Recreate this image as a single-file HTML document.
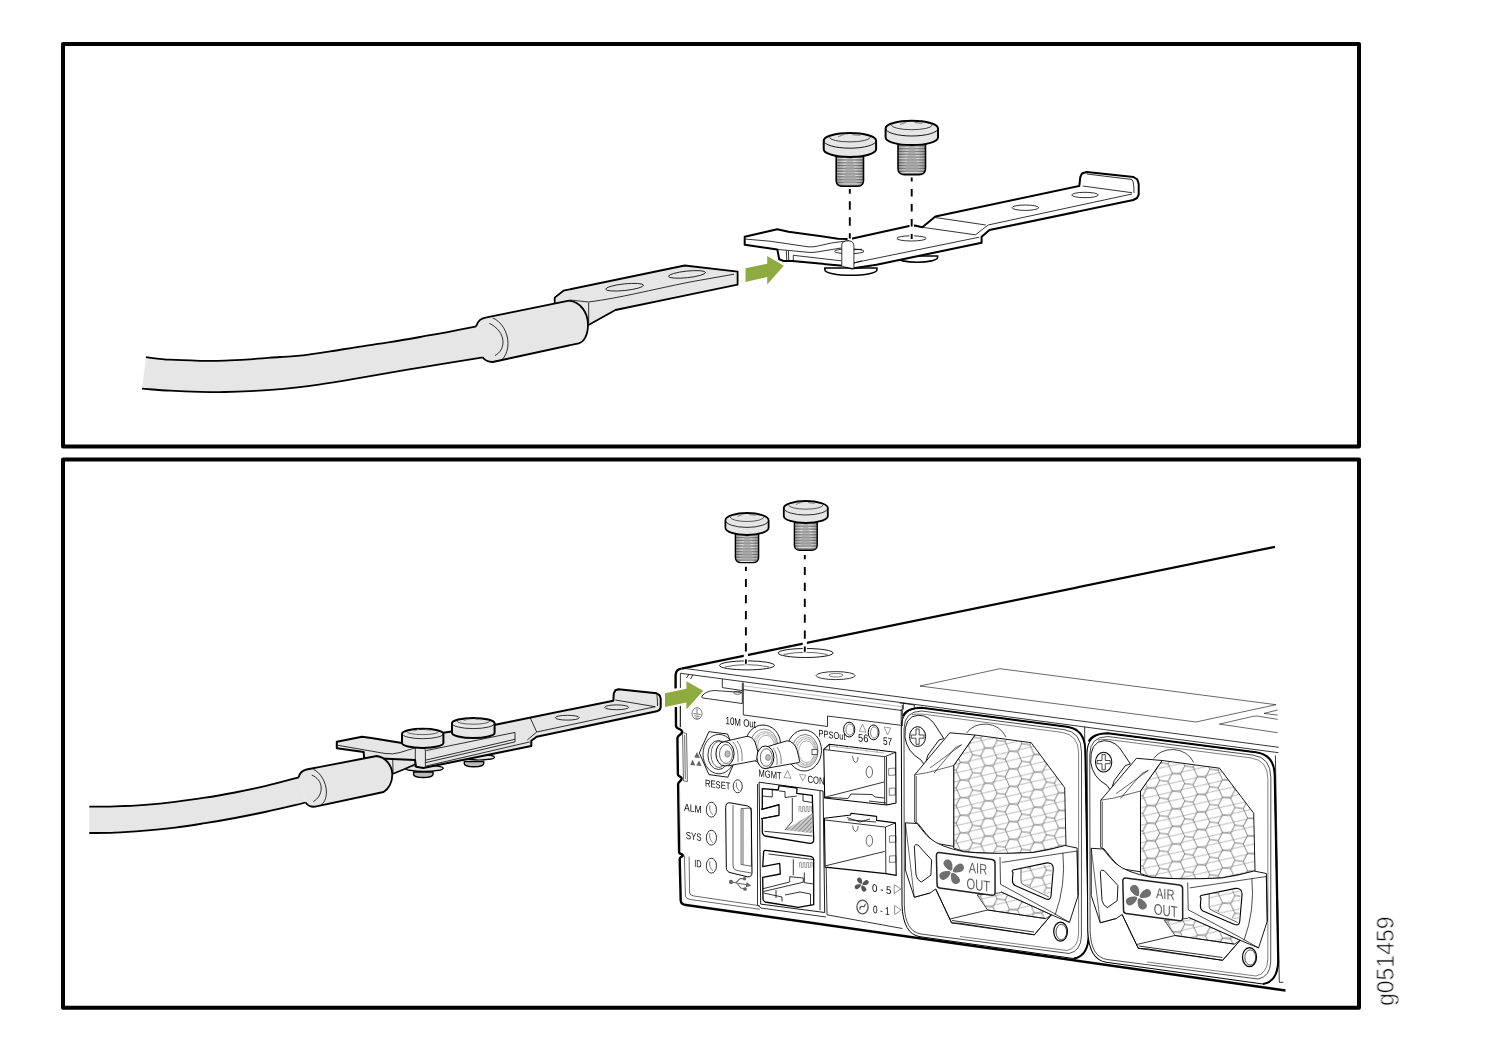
<!DOCTYPE html>
<html><head><meta charset="utf-8"><title>g051459</title>
<style>html,body{margin:0;padding:0;background:#fff;font-family:"Liberation Sans",sans-serif;}svg{display:block;}text{font-family:"Liberation Sans",sans-serif;}</style></head>
<body><svg width="1500" height="1050" viewBox="0 0 1500 1050">
<g opacity="0.999">
<rect x="63" y="44" width="1296" height="402.6" fill="none" stroke="#000" stroke-width="4" stroke-linejoin="round"/>
<rect x="63" y="459.4" width="1296" height="548.3" fill="none" stroke="#000" stroke-width="4" stroke-linejoin="round"/>
<path d="M146.0,357.2 C150.0,357.6 161.0,359.1 170.0,359.7 C179.0,360.3 190.8,360.6 200.0,360.8 C209.2,361.0 216.7,360.9 225.0,360.6 C233.3,360.4 240.8,359.9 250.0,359.3 C259.2,358.7 271.7,357.6 280.0,357.0 C288.3,356.4 291.7,356.5 300.0,355.6 C308.3,354.7 320.0,352.9 330.0,351.4 C340.0,349.9 350.0,348.1 360.0,346.6 C370.0,345.1 380.0,343.8 390.0,342.2 C400.0,340.6 410.0,338.8 420.0,337.0 C430.0,335.2 440.6,333.4 450.0,331.6 C459.4,329.8 472.1,327.3 476.5,326.4 L483.0,357.3 C472.5,359.0 440.5,364.2 420.0,367.6 C399.5,371.0 378.3,374.8 360.0,377.8 C341.7,380.9 323.3,384.0 310.0,385.9 C296.7,387.8 290.0,388.3 280.0,389.2 C270.0,390.1 259.2,390.7 250.0,391.2 C240.8,391.7 233.3,391.9 225.0,392.0 C216.7,392.1 209.2,392.0 200.0,391.8 C190.8,391.6 179.7,391.2 170.0,390.7 C160.3,390.2 146.7,389.0 142.0,388.7 Z" fill="#e6e6e6" stroke="none"/>
<path d="M146.0,357.2 C150.0,357.6 161.0,359.1 170.0,359.7 C179.0,360.3 190.8,360.6 200.0,360.8 C209.2,361.0 216.7,360.9 225.0,360.6 C233.3,360.4 240.8,359.9 250.0,359.3 C259.2,358.7 271.7,357.6 280.0,357.0 C288.3,356.4 291.7,356.5 300.0,355.6 C308.3,354.7 320.0,352.9 330.0,351.4 C340.0,349.9 350.0,348.1 360.0,346.6 C370.0,345.1 380.0,343.8 390.0,342.2 C400.0,340.6 410.0,338.8 420.0,337.0 C430.0,335.2 440.6,333.4 450.0,331.6 C459.4,329.8 472.1,327.3 476.5,326.4" fill="none" stroke="#000" stroke-width="1.8"/>
<path d="M483.0,357.3 C472.5,359.0 440.5,364.2 420.0,367.6 C399.5,371.0 378.3,374.8 360.0,377.8 C341.7,380.9 323.3,384.0 310.0,385.9 C296.7,387.8 290.0,388.3 280.0,389.2 C270.0,390.1 259.2,390.7 250.0,391.2 C240.8,391.7 233.3,391.9 225.0,392.0 C216.7,392.1 209.2,392.0 200.0,391.8 C190.8,391.6 179.7,391.2 170.0,390.7 C160.3,390.2 146.7,389.0 142.0,388.7" fill="none" stroke="#000" stroke-width="1.8"/>
<path d="M554.7,303.0 L554.7,297.6 L563.4,290.7 L684.7,265.5 L737.6,271.6 L737.6,284.6 L615.4,310.0 L589.4,324.5 L575.0,330.0 Z" fill="#e6e6e6" stroke="#000" stroke-width="1.8" stroke-linejoin="round"/>
<path d="M734,274.2 L690,282 C650,290 620,298 588.5,302 L570,300" fill="none" stroke="#000" stroke-width="0.8"/>
<path d="M588.7,302.5 L588.7,323" fill="none" stroke="#000" stroke-width="0.8"/>
<ellipse cx="624.6" cy="287.2" rx="19" ry="3.3" transform="rotate(-6 624.6 287.2)" fill="none" stroke="#000" stroke-width="0.8"/>
<ellipse cx="687" cy="274.4" rx="18.6" ry="3.3" transform="rotate(-6 687 274.4)" fill="none" stroke="#000" stroke-width="0.8"/>
<path d="M476,326.4 C477.5,321 481,318 486.7,317.3 L569,300.7 C580,302 588,312 588,324.7 C588,335 584,342 578.7,343.3 L492.7,362 C488,362 484.5,360 482.7,357.3 Z" fill="#e6e6e6"/>
<path d="M476,326.4 C477.5,321 481,318 486.7,317.3 L569,300.7 C580,302 588,312 588,324.7 C588,335 584,342 578.7,343.3 L492.7,362 C488,362 484.5,360 482.7,357.3" fill="none" stroke="#000" stroke-width="1.8" stroke-linejoin="round"/>
<path d="M492.7,318 C501,321 508,332 508,343.3 C508,351 505,358 500,361" fill="none" stroke="#000" stroke-width="0.8"/>
<path d="M489.3,323.3 C497,327 503,334 503,342 C503,348 500,353 495,355.5" fill="none" stroke="#000" stroke-width="0.8"/>
<polygon points="745.5,268.3 767.2,263.7 767.2,256.1 783.8,265.8 767.2,284.5 767.2,277.1 745.5,282" fill="#8fab3f"/>
<path d="M824.9,268 L824.9,270 A26,5.2 0 0 0 876.9,270 L876.9,268 Z" fill="#fff" stroke="#000" stroke-width="1.6"/>
<path d="M896.8,256 L896.8,257.5 A20.4,4.8 0 0 0 937.6,257.5 L937.6,256 Z" fill="#fff" stroke="#000" stroke-width="1.6"/>
<path d="M744.7,236.8 L777.3,229.3 L788.5,231.7 L838.0,238.7 L847.4,239.1 L850.2,239.1 L909.2,225.9 L914.8,225.5 L922.3,227.3 L935.4,216.6 L1079.3,186.0 L1080.3,177.0 L1082.0,173.5 L1086.7,172.0 L1133.5,177.0 L1137.3,179.5 L1138.7,184.0 L1138.7,194.7 L1137.0,198.0 L1133.3,200.0 L989.5,230.1 L981.6,236.7 L981.6,242.8 L876.5,264.7 L852.0,268.5 L842.7,265.7 L792.3,261.1 L783.9,261.1 L779.2,259.2 L777.3,249.4 L744.7,244.7 Z" fill="#fff" stroke="#000" stroke-width="2" stroke-linejoin="round"/>
<path d="M745.6,239.1 L770,241.2 L808,246.8 Q813,247.3 818,246 L831.3,243 L849.1,240.6" fill="none" stroke="#000" stroke-width="0.8"/>
<path d="M778,249.5 L788.4,250.4 L808,252.3 Q813,252.8 818,251.8 L841.2,248 M793.3,255.3 L841.2,260.8 M853.5,249.8 L862,249.2 M853.5,263.3 L862,260.8" fill="none" stroke="#000" stroke-width="0.8"/>
<path d="M853,263 L979.2,237.2" fill="none" stroke="#000" stroke-width="0.8"/>
<path d="M922.3,227.3 L975.5,234.8 L988.1,225 L1132,194 M935.4,217.5 L985.8,225 M1082.7,186 L1132,192.7 M1086.7,174 L1132,179.5 Q1134,182 1134,193" fill="none" stroke="#000" stroke-width="0.8"/>
<path d="M786.3,250.5 L786.8,260.5 M788.4,250.5 L788.8,260.5 M793.3,255.3 L793.3,260.8" fill="none" stroke="#000" stroke-width="0.8"/>
<ellipse cx="911.5" cy="238.4" rx="14.7" ry="2.6" fill="none" stroke="#000" stroke-width="0.8"/>
<ellipse cx="1025.3" cy="207.7" rx="13.3" ry="2.7" fill="none" stroke="#000" stroke-width="0.8"/>
<ellipse cx="1085" cy="195" rx="13.3" ry="2.7" fill="none" stroke="#000" stroke-width="0.8"/>
<ellipse cx="849.3" cy="251.3" rx="14.7" ry="2.4" fill="none" stroke="#000" stroke-width="0.8"/>
<path d="M841.8,266 L841.8,244 Q842.5,241.2 846,241 L849,240.8 Q853.9,241.2 853.9,246.5 L853.9,268.3" fill="#fff" stroke="#000" stroke-width="0.8"/>
<defs>
<pattern id="thr" width="4" height="1.55" patternUnits="userSpaceOnUse"><rect width="4" height="1.55" fill="#e4e4e4"/><rect y="0.85" width="4" height="0.7" fill="#6e6e6e"/></pattern>
<linearGradient id="thrg" x1="0" x2="1" y1="0" y2="0"><stop offset="0" stop-color="#000" stop-opacity="0.25"/><stop offset="0.3" stop-color="#000" stop-opacity="0"/><stop offset="0.7" stop-color="#000" stop-opacity="0"/><stop offset="1" stop-color="#000" stop-opacity="0.25"/></linearGradient>
</defs>
<path d="M836.2,149.3 L836.2,180.8 C836.2,184.7 839.7,186.3 842.4,186.3 L857.4,186.3 C860.1,186.3 863.5,184.7 863.5,180.8 L863.5,149.3 Z" fill="url(#thr)"/>
<path d="M836.2,149.3 L836.2,180.8 C836.2,184.7 839.7,186.3 842.4,186.3 L857.4,186.3 C860.1,186.3 863.5,184.7 863.5,180.8 L863.5,149.3 Z" fill="url(#thrg)"/>
<path d="M848.8,150.3 L851.0,150.3 L856.7,183.3 L843.1,183.3 Z" fill="#a0a0a0" opacity="0.75"/>
<path d="M836.2,149.3 L836.2,180.8 C836.2,184.7 839.7,186.3 842.4,186.3 L857.4,186.3 C860.1,186.3 863.5,184.7 863.5,180.8 L863.5,149.3 Z" fill="none" stroke="#000" stroke-width="1.60" stroke-linejoin="round"/>
<path d="M823.7,140.6 A26.2,7.6 0 0 1 876.1,140.6 L876.1,149.3 A26.2,7.6 0 0 1 823.7,149.3 Z" fill="#e6e6e6" stroke="#000" stroke-width="2.00" stroke-linejoin="round"/>
<path d="M823.7,140.6 A26.2,7.6 0 0 0 876.1,140.6" fill="none" stroke="#000" stroke-width="0.90"/>
<path d="M829.5,137.2 A20.4,4.7 0 0 0 870.3,137.2" fill="none" stroke="#000" stroke-width="0.70"/>
<path d="M838.1,136.7 l6.5,-2.4 M852.5,134.6 l7.9,0.9" stroke="#888" stroke-width="1.20" fill="none"/>
<path d="M898.0,137.5 L898.0,169.1 C898.0,172.9 901.5,174.6 904.2,174.6 L919.4,174.6 C922.1,174.6 925.5,172.9 925.5,169.1 L925.5,137.5 Z" fill="url(#thr)"/>
<path d="M898.0,137.5 L898.0,169.1 C898.0,172.9 901.5,174.6 904.2,174.6 L919.4,174.6 C922.1,174.6 925.5,172.9 925.5,169.1 L925.5,137.5 Z" fill="url(#thrg)"/>
<path d="M910.7,138.5 L912.9,138.5 L918.7,171.6 L904.9,171.6 Z" fill="#a0a0a0" opacity="0.75"/>
<path d="M898.0,137.5 L898.0,169.1 C898.0,172.9 901.5,174.6 904.2,174.6 L919.4,174.6 C922.1,174.6 925.5,172.9 925.5,169.1 L925.5,137.5 Z" fill="none" stroke="#000" stroke-width="1.60" stroke-linejoin="round"/>
<path d="M885.6,128.4 A26.2,7.6 0 0 1 938.0,128.4 L938.0,137.5 A26.2,7.6 0 0 1 885.6,137.5 Z" fill="#e6e6e6" stroke="#000" stroke-width="2.00" stroke-linejoin="round"/>
<path d="M885.6,128.4 A26.2,7.6 0 0 0 938.0,128.4" fill="none" stroke="#000" stroke-width="0.90"/>
<path d="M891.4,125.0 A20.4,4.7 0 0 0 932.2,125.0" fill="none" stroke="#000" stroke-width="0.70"/>
<path d="M900.0,124.5 l6.5,-2.4 M914.4,122.4 l7.9,0.9" stroke="#888" stroke-width="1.20" fill="none"/>
<path d="M849.8,189 L849.8,240 M911.7,177.6 L911.7,239.5" stroke="#fff" stroke-width="4.5"/>
<path d="M849.8,189 L849.8,238.5" stroke="#000" stroke-width="1.9" stroke-dasharray="8.4,7.6" stroke-dashoffset="3.7"/>
<path d="M911.7,177.6 L911.7,239" stroke="#000" stroke-width="1.9" stroke-dasharray="7.4,7.6" stroke-dashoffset="3.5"/>
<path d="M89.3,806.7 C93.6,806.7 105.7,806.7 115.0,806.4 C124.3,806.1 135.0,805.6 145.0,804.8 C155.0,804.0 165.0,803.0 175.0,801.8 C185.0,800.6 195.0,799.2 205.0,797.7 C215.0,796.2 225.0,794.4 235.0,792.5 C245.0,790.6 254.3,788.7 265.0,786.2 C275.7,783.7 293.3,778.8 299.0,777.3 L305.6,802.4 C303.8,802.9 301.8,803.6 295.0,805.2 C288.2,806.8 275.0,809.9 265.0,812.0 C255.0,814.1 245.0,816.1 235.0,818.0 C225.0,819.9 215.0,821.6 205.0,823.2 C195.0,824.8 185.0,826.5 175.0,827.7 C165.0,829.0 155.0,829.9 145.0,830.7 C135.0,831.5 124.3,832.3 115.0,832.7 C105.7,833.1 93.6,833.0 89.3,833.0 Z" fill="#e6e6e6"/>
<path d="M89.3,806.7 C93.6,806.7 105.7,806.7 115.0,806.4 C124.3,806.1 135.0,805.6 145.0,804.8 C155.0,804.0 165.0,803.0 175.0,801.8 C185.0,800.6 195.0,799.2 205.0,797.7 C215.0,796.2 225.0,794.4 235.0,792.5 C245.0,790.6 254.3,788.7 265.0,786.2 C275.7,783.7 293.3,778.8 299.0,777.3" fill="none" stroke="#000" stroke-width="1.8"/>
<path d="M305.6,802.4 C303.8,802.9 301.8,803.6 295.0,805.2 C288.2,806.8 275.0,809.9 265.0,812.0 C255.0,814.1 245.0,816.1 235.0,818.0 C225.0,819.9 215.0,821.6 205.0,823.2 C195.0,824.8 185.0,826.5 175.0,827.7 C165.0,829.0 155.0,829.9 145.0,830.7 C135.0,831.5 124.3,832.3 115.0,832.7 C105.7,833.1 93.6,833.0 89.3,833.0" fill="none" stroke="#000" stroke-width="1.8"/>
<ellipse cx="424.3" cy="768.3" rx="19" ry="3" fill="#e6e6e6" stroke="#000" stroke-width="1.2"/>
<path d="M413.6,772 L413.6,774.5 A9.7,3 0 0 0 433,774.5 L433,772 Z" fill="#bbb" stroke="#000" stroke-width="1.4"/>
<ellipse cx="479" cy="757.3" rx="15.5" ry="2.7" fill="#e6e6e6" stroke="#000" stroke-width="1.2"/>
<path d="M464.3,761.5 L464.3,763.8 A9.7,3 0 0 0 483.7,763.8 L483.7,761.5 Z" fill="#bbb" stroke="#000" stroke-width="1.4"/>
<path d="M363,753 L415,757 L415,766 L403.5,769.5 L393,774 L380,778 L375,760 Z" fill="#e6e6e6" stroke="none"/>
<path d="M393.1,773.8 L403.5,769.5 L416,764" fill="none" stroke="#000" stroke-width="1.6"/>
<path d="M392.7,758.2 L393.1,773.8 M364.5,753 L393,758 L415,756" fill="none" stroke="#000" stroke-width="0.8"/>
<path d="M336.8,741.7 L362.0,736.7 L371.3,738.0 L405.0,743.5 L425.0,738.0 L443.3,732.7 L495.3,724.7 L613.3,700.7 L613.8,693.5 L615.3,690.3 L618.5,689.3 L656.5,693.3 L659.7,695.3 L660.7,698.5 L660.7,707.5 L659.5,710.0 L656.7,711.3 L536.7,736.7 L531.3,740.7 L531.3,746.0 L423.3,768.0 L416.0,766.7 L415.0,760.0 L364.1,757.8 L363.7,752.1 L336.8,748.2 Z" fill="#e6e6e6" stroke="#000" stroke-width="2" stroke-linejoin="round"/>
<path d="M338,745.3 L385,753.5 Q392.7,754.7 400,752.5 L418,747 Q425.4,745.5 425.4,751 L425.4,766.2 L529.8,741.9" fill="none" stroke="#000" stroke-width="0.8"/>
<path d="M415.3,748 L415.3,766" fill="none" stroke="#000" stroke-width="0.8"/>
<path d="M426.2,750.6 L515,732.4 L515,741.9 L425.4,762.7 M425.8,760.1 L515,739.3" fill="none" stroke="#000" stroke-width="0.8"/>
<path d="M527.3,740 L536.7,732 L655.3,706.7 M615.3,700 L655.3,706.7 M656.7,695.3 Q657.5,697 657.5,706" fill="none" stroke="#000" stroke-width="0.8"/>
<path d="M530,717.3 L536.7,732" fill="none" stroke="#000" stroke-width="0.8"/>
<ellipse cx="567.3" cy="717.7" rx="12" ry="2.4" fill="none" stroke="#000" stroke-width="0.8"/>
<ellipse cx="616.7" cy="707.3" rx="12" ry="2.4" fill="none" stroke="#000" stroke-width="0.8"/>
<path d="M298.7,777.3 C299.5,773 302,770.5 306.5,769.5 L376.7,756 C385,757 392.3,765 392.3,774.7 C392.3,782 389,789 383.6,792 L315.1,806.7 C311,807 307.5,805.5 305.6,802.4 Z" fill="#e6e6e6"/>
<path d="M298.7,777.3 C299.5,773 302,770.5 306.5,769.5 L376.7,756 C385,757 392.3,765 392.3,774.7 C392.3,782 389,789 383.6,792 L315.1,806.7 C311,807 307.5,805.5 305.6,802.4" fill="none" stroke="#000" stroke-width="1.8" stroke-linejoin="round"/>
<path d="M313.4,769.5 C320,772 326.4,782 326.4,792 C326.4,799 324,803 321.2,804.6" fill="none" stroke="#000" stroke-width="0.8"/>
<path d="M311.7,775.1 C317,777 321.2,782 321.2,788 C321.2,794 318,799 313.4,801.5" fill="none" stroke="#000" stroke-width="0.8"/>
<path d="M402.0,733.7 A20.7,5 0 0 1 443.4,733.7 L443.4,743.0 A20.7,5 0 0 1 402.0,743.0 Z" fill="#e6e6e6" stroke="#000" stroke-width="2.00" stroke-linejoin="round"/>
<path d="M402.0,733.7 A20.7,5 0 0 0 443.4,733.7" fill="none" stroke="#000" stroke-width="0.8"/>
<path d="M406.6,731.5 A16.1,3.1 0 0 0 438.8,731.5" fill="none" stroke="#000" stroke-width="0.6"/>
<path d="M413.4,731.1 l5.2,-1.6 M424.8,729.7 l6.2,0.6" stroke="#888" stroke-width="1" fill="none"/>
<path d="M452.0,723.3 A21.3,5.3 0 0 1 494.6,723.3 L494.6,732.7 A21.3,5.3 0 0 1 452.0,732.7 Z" fill="#e6e6e6" stroke="#000" stroke-width="2.00" stroke-linejoin="round"/>
<path d="M452.0,723.3 A21.3,5.3 0 0 0 494.6,723.3" fill="none" stroke="#000" stroke-width="0.8"/>
<path d="M456.7,720.9 A16.6,3.3 0 0 0 489.9,720.9" fill="none" stroke="#000" stroke-width="0.6"/>
<path d="M463.7,720.6 l5.3,-1.6 M475.4,719.1 l6.4,0.7" stroke="#888" stroke-width="1" fill="none"/>
<path d="M735.4,527.8 L735.4,557.6 C735.4,561.1 738.3,562.6 740.6,562.6 L753.4,562.6 C755.7,562.6 758.6,561.1 758.6,557.6 L758.6,527.8 Z" fill="url(#thr)"/>
<path d="M735.4,527.8 L735.4,557.6 C735.4,561.1 738.3,562.6 740.6,562.6 L753.4,562.6 C755.7,562.6 758.6,561.1 758.6,557.6 L758.6,527.8 Z" fill="url(#thrg)"/>
<path d="M746.1,528.8 L747.9,528.8 L752.8,559.6 L741.2,559.6 Z" fill="#a0a0a0" opacity="0.75"/>
<path d="M735.4,527.8 L735.4,557.6 C735.4,561.1 738.3,562.6 740.6,562.6 L753.4,562.6 C755.7,562.6 758.6,561.1 758.6,557.6 L758.6,527.8 Z" fill="none" stroke="#000" stroke-width="1.44" stroke-linejoin="round"/>
<path d="M725.4,520.2 A21.6,7.2 0 0 1 768.6,520.2 L768.6,527.8 A21.6,7.2 0 0 1 725.4,527.8 Z" fill="#e6e6e6" stroke="#000" stroke-width="1.80" stroke-linejoin="round"/>
<path d="M725.4,520.2 A21.6,7.2 0 0 0 768.6,520.2" fill="none" stroke="#000" stroke-width="0.81"/>
<path d="M730.2,517.0 A16.8,4.5 0 0 0 763.8,517.0" fill="none" stroke="#000" stroke-width="0.63"/>
<path d="M737.3,516.5 l5.4,-2.2 M749.2,514.5 l6.5,0.9" stroke="#888" stroke-width="1.08" fill="none"/>
<path d="M794.4,516.0 L794.4,545.2 C794.4,548.7 797.2,550.2 799.5,550.2 L812.1,550.2 C814.3,550.2 817.2,548.7 817.2,545.2 L817.2,516.0 Z" fill="url(#thr)"/>
<path d="M794.4,516.0 L794.4,545.2 C794.4,548.7 797.2,550.2 799.5,550.2 L812.1,550.2 C814.3,550.2 817.2,548.7 817.2,545.2 L817.2,516.0 Z" fill="url(#thrg)"/>
<path d="M804.9,517.0 L806.7,517.0 L811.5,547.2 L800.1,547.2 Z" fill="#a0a0a0" opacity="0.75"/>
<path d="M794.4,516.0 L794.4,545.2 C794.4,548.7 797.2,550.2 799.5,550.2 L812.1,550.2 C814.3,550.2 817.2,548.7 817.2,545.2 L817.2,516.0 Z" fill="none" stroke="#000" stroke-width="1.44" stroke-linejoin="round"/>
<path d="M783.8,508.0 A22,7 0 0 1 827.8,508.0 L827.8,516.0 A22,7 0 0 1 783.8,516.0 Z" fill="#e6e6e6" stroke="#000" stroke-width="1.80" stroke-linejoin="round"/>
<path d="M783.8,508.0 A22,7 0 0 0 827.8,508.0" fill="none" stroke="#000" stroke-width="0.81"/>
<path d="M788.6,504.9 A17.2,4.3 0 0 0 823.0,504.9" fill="none" stroke="#000" stroke-width="0.63"/>
<path d="M795.9,504.4 l5.5,-2.2 M808.0,502.5 l6.6,0.9" stroke="#888" stroke-width="1.08" fill="none"/>
<defs>
<pattern id="hex" width="24.6" height="17.6" patternUnits="userSpaceOnUse" patternTransform="translate(952,761) skewY(7.4)">
<path d="M0,4 L24.6,-4.8 M0,12.8 L24.6,4 M0,21.6 L24.6,12.8" fill="none" stroke="#8e8e8e" stroke-width="0.6"/>
<path d="M4.1,8.8 L8.2,0 L16.4,0 L20.5,8.8 L16.4,17.6 L8.2,17.6 Z M0,8.8 L4.1,8.8 M20.5,8.8 L24.6,8.8" fill="none" stroke="#6e6e6e" stroke-width="0.85"/>
</pattern>
</defs>
<g id="psu"><path d="M902,905 L901.3,728 Q901.3,708 921.7,707.7 L1066.7,726.7 Q1085,729 1085.3,750 L1088.7,936 Q1088,956 1073.8,958.6 L920,936.7 Q903,934 902,905 Z" fill="#fff" stroke="#000" stroke-width="1"/>
<path d="M903,716 Q906,708 921.7,707.7 L1066.7,726.7 Q1085,729 1085.3,750 L1088.7,936 Q1088,956 1073.8,958.6" fill="none" stroke="#000" stroke-width="2"/>
<path d="M904.3,905 L904,729 Q904.2,711.2 921.7,711 L1064,729.6 Q1081.4,732 1081.5,752 L1081.4,936 Q1081,951 1069,953.5 L921,934 Q905,931.5 904.3,905 Z" fill="none" stroke="#000" stroke-width="0.7"/>
<path d="M912,714.5 Q916,714 922,714 L1062,732.4 Q1078.6,735 1078.6,753 L1078.6,934 Q1078,948 1067,950.5 L960,936.5" fill="none" stroke="#000" stroke-width="0.5"/>
<path d="M953.7,765.5 L975,735 L1031.2,742.7 L1064.7,787.7 L1066,846 L1033,852.5 L998.6,853.8 L964,851.8 L953.7,848 Z" fill="url(#hex)"/>
<path d="M953.7,765.5 L975,735 L1031.2,742.7 L1064.7,787.7 L1066,846 L1033,852.5 L998.6,853.8 L964,851.8 L953.7,848 Z" fill="none" stroke="#000" stroke-width="0.9"/>
<path d="M966.6,733 Q973,724 986,724 Q1000,725 1006,737" fill="none" stroke="#000" stroke-width="0.7"/>
<path d="M904.9,737 Q904,716 918,715.2 Q930,715 937,728 L943.8,738.5 L939,740 L928,755 L924.7,765.5 L921,760 Q907,752 904.9,737 Z" fill="#fff" stroke="#000" stroke-width="0.9"/>
<ellipse cx="917.6" cy="736.6" rx="8" ry="9.9" fill="#fff" stroke="#000" stroke-width="1"/>
<path d="M916,729 L919.2,729 L919.2,735 L924,735 L924,738.2 L919.2,738.2 L919.2,744.3 L916,744.3 L916,738.2 L911.2,738.2 L911.2,735 L916,735 Z" fill="none" stroke="#000" stroke-width="0.7"/>
<path d="M914.8,774.7 L949.8,732.8 L975,735 L953.7,765.5 L953.7,846.3 L934.6,843.2 Q925,833 917.9,823.4 L914.8,822 Z" fill="#fff" stroke="#000" stroke-width="0.9"/>
<path d="M914.8,774.7 L928,772.5 L953.7,765.5 M930,768 L961.5,744.8 L955,748 L934,773" fill="none" stroke="#000" stroke-width="0.6"/>
<path d="M916.5,776 L916.5,822" fill="none" stroke="#000" stroke-width="0.5"/>
<path d="M905.4,822.8 L917.1,823.5 Q925,834 929.5,838 Q940,847 964,851.8 Q990,854.5 1033,852.5 Q1050,850 1064.9,845.5 L1077.1,848 L1078,895.7 L1069.5,922.4 L1051.4,914.8 L1034.3,934.8 L960,923.3 L951.6,922.9 L935.7,889 L930,893 L914.3,897.3 L905.4,870 Z" fill="#fff" stroke="#000" stroke-width="0.9" stroke-linejoin="round"/>
<path d="M977.1,894.8 L1000,892.9 L1001,891.9 L1051.4,914.8 L1045.7,918.6 L987.6,910 Z" fill="url(#hex)"/>
<path d="M977.1,894.8 L1000,892.9 L1001,891.9 L1051.4,914.8 L1045.7,918.6 L987.6,910 Z" fill="none" stroke="#000" stroke-width="0.7"/>
<path d="M935.7,889 L951.6,922.9 L1034.3,934.8 L1051.4,914.8 M950,919 L987.6,910 L1045.7,918.6 M952,920.5 L1034,932" fill="none" stroke="#000" stroke-width="0.8"/>
<path d="M1000,857 L1000.5,884.3 L1051.4,911.9 L1069.5,922.4 M1001,891.9 L1051.4,914.8 M1001.9,862.4 L1077.1,851 M1062.9,852.9 Q1066,885 1055.2,914.8 M1078,895.7 L1077.1,851" fill="none" stroke="#000" stroke-width="0.7"/>
<path d="M1013,872.5 Q1011.4,871.9 1013,870 L1047,862.9 Q1053.3,862.5 1053.3,869 L1051,896 Q1050.5,900.5 1046,899 L1015,885.5 Q1012.4,884 1012.4,880 Z" fill="#fff" stroke="#000" stroke-width="1.1"/>
<path d="M1021,868 L1052,864 L1050.5,896 L1022,883 Z" fill="url(#hex)"/>
<path d="M1021,868 L1021,881 Q1021,884 1024,885 L1049,897" fill="none" stroke="#000" stroke-width="0.6"/>
<path d="M914.3,846 Q915,844 918,845 L931.6,860 L930.9,875.2 L921.2,882.1 Q917,880 916,875 Z" fill="#fff" stroke="#000" stroke-width="0.9"/>
<path d="M905.4,822.8 L914.3,897.3 L930,893" fill="none" stroke="#000" stroke-width="0.6"/>
<path d="M939,852.5 L992,859.5 Q995,860 995,863 L995.1,892.5 Q995,895.5 992,895.3 L939.5,888 Q937.1,887.7 937.1,885 L936.4,855.5 Q936.5,852.3 939,852.5 Z" fill="#fff" stroke="#222" stroke-width="1.5"/>
<path d="M0,-1 C-2.2,-2.5 -4.2,-6.5 -3.6,-9.6 C-3,-12.2 0.8,-12.6 2.6,-10.6 C4.4,-8.4 3.2,-4.2 1.2,-1.4 Z" transform="translate(951.7,871.7) rotate(-25) scale(1.12)" fill="#6f6f6f"/><path d="M0,-1 C-2.2,-2.5 -4.2,-6.5 -3.6,-9.6 C-3,-12.2 0.8,-12.6 2.6,-10.6 C4.4,-8.4 3.2,-4.2 1.2,-1.4 Z" transform="translate(951.7,871.7) rotate(65) scale(1.12)" fill="#6f6f6f"/><path d="M0,-1 C-2.2,-2.5 -4.2,-6.5 -3.6,-9.6 C-3,-12.2 0.8,-12.6 2.6,-10.6 C4.4,-8.4 3.2,-4.2 1.2,-1.4 Z" transform="translate(951.7,871.7) rotate(155) scale(1.12)" fill="#6f6f6f"/><path d="M0,-1 C-2.2,-2.5 -4.2,-6.5 -3.6,-9.6 C-3,-12.2 0.8,-12.6 2.6,-10.6 C4.4,-8.4 3.2,-4.2 1.2,-1.4 Z" transform="translate(951.7,871.7) rotate(245) scale(1.12)" fill="#6f6f6f"/><circle cx="951.7" cy="871.7" r="1.12" fill="#fff"/>
<text transform="translate(968.8,872.4) skewY(7.4)" font-size="14.7" fill="#5e5e5e" textLength="18.3" lengthAdjust="spacingAndGlyphs">AIR</text>
<text transform="translate(966.6,888.8) skewY(7.4)" font-size="15.5" fill="#5e5e5e" textLength="23.5" lengthAdjust="spacingAndGlyphs">OUT</text>
<ellipse cx="1060.6" cy="931.6" rx="6.9" ry="9.5" fill="#fff" stroke="#000" stroke-width="1.2"/>
<ellipse cx="1061.3" cy="932" rx="5.3" ry="7.6" fill="none" stroke="#000" stroke-width="0.7"/></g>
<use href="#psu" transform="matrix(1.02,0,0,1,167.7,25.5)"/>
<path d="M681.5,668.6 L1275,546.8" stroke="#000" stroke-width="2.2" fill="none"/>
<path d="M675.6,688.5 L675.6,675 Q675.9,669.3 681.5,668.6" stroke="#000" stroke-width="2.4" fill="none"/>
<path d="M675.9,707 L676,725.7 C676,729.5 682.1,728.5 682.1,731.8 C682.1,735 677.4,734.5 677.4,738.5 L677.9,774.3 C677.9,777.5 681.7,776 681.7,778.5 C681.7,781.5 678.1,781 678.1,784.5 L679.1,852.4 C679.2,854.5 682.8,853.5 682.8,855.2 C682.8,857 679.7,856.5 679.7,859 L680.7,900.5 Q681,904.5 686,905 L1285.5,990.5" stroke="#000" stroke-width="2.4" fill="none" stroke-linejoin="round"/>
<path d="M686,668.6 L1278.7,747.3 M680.4,673.3 L1278.5,752.7" fill="none" stroke="#000" stroke-width="0.8"/>
<path d="M680.4,673.3 L680.4,727 M1275.4,755.4 L1279.3,982.3 L1283.3,982.3" fill="none" stroke="#000" stroke-width="0.8"/>
<path d="M684.4,855.5 L685.4,896 Q686,899 690.1,899.5 L760,909.3 M689.1,856.5 L689.6,893 Q690,895.5 694,896 L760,905.8" fill="none" stroke="#000" stroke-width="0.6"/>
<path d="M682.5,732.4 L686.5,733.5 L687.4,781.5 L683.5,780.8 Z M684.6,735 L685.3,779" fill="none" stroke="#000" stroke-width="0.6"/>
<path d="M680.2,706 L680.2,727.6" fill="none" stroke="#000" stroke-width="0.6"/>
<path d="M679.5,787 L680.8,851" fill="none" stroke="#999" stroke-width="0.5"/>
<ellipse cx="747" cy="665.4" rx="27.5" ry="4.5" fill="#fff" stroke="#000" stroke-width="0.9"/>
<path d="M725,666.9 Q747,662.4 769,666.9" fill="none" stroke="#000" stroke-width="0.6"/>
<ellipse cx="805.6" cy="653" rx="27.5" ry="4.5" fill="#fff" stroke="#000" stroke-width="0.9"/>
<path d="M783.6,654.5 Q805.6,650 827.6,654.5" fill="none" stroke="#000" stroke-width="0.6"/>
<ellipse cx="835.6" cy="675.6" rx="19.5" ry="4" fill="none" stroke="#000" stroke-width="0.8"/>
<ellipse cx="836" cy="675.2" rx="7" ry="1.8" fill="none" stroke="#000" stroke-width="0.5"/>
<path d="M920,686 L1000,668.7 L1276,704.7 L1196,722 Z M1277.7,732.7 L1219.4,724.1 L1252.8,716.4 L1257,716 L1277.7,719.4 M1277.7,710 L1264,713.4 L1277.7,715.1" fill="none" stroke="#000" stroke-width="0.6"/>
<path d="M745.9,566.8 L745.9,664.5 M804.8,554.9 L804.8,652.5" stroke="#fff" stroke-width="4.2"/>
<path d="M745.9,566.8 L745.9,663.7" stroke="#000" stroke-width="1.9" stroke-dasharray="8.2,7.9" stroke-dashoffset="4"/>
<path d="M804.8,554.9 L804.8,651.8" stroke="#000" stroke-width="1.9" stroke-dasharray="8.2,7.7" stroke-dashoffset="3.9"/>
<path d="M743.3,689.6 L901.7,710.5 M743.3,682.5 L743.3,714.9 L827.5,726.5 L827.5,716 L901.7,725.4 M902.3,705 L902.3,726" fill="none" stroke="#000" stroke-width="0.8"/>
<path d="M743.3,685.8 L901.7,706.7" fill="none" stroke="#999" stroke-width="0.6"/>
<path d="M722.3,679 L722.3,687.6 L742.3,690.6 M742.3,682.9 L742.3,703.8 M742,692.4 L714,690.5 Q706,691 702,696 Q701,697.6 703,698 L742,703.5" fill="none" stroke="#000" stroke-width="0.8"/>
<ellipse cx="737.5" cy="692.8" rx="3.8" ry="1.5" fill="none" stroke="#000" stroke-width="0.6"/>
<path d="M686.5,678 L689,674 M690.5,679 L693,674.5" fill="none" stroke="#000" stroke-width="0.8"/>
<path d="M901.2,709 L901.2,724 M903.3,703.3 L903.3,709.5 M903.3,703.3 L914.3,705 L914.3,709.4" fill="none" stroke="#000" stroke-width="0.8"/>
<path d="M1084.7,726.7 L1084.7,745" fill="none" stroke="#000" stroke-width="0.8"/>
<polygon points="665,693.3 686.4,688.8 686.4,681.2 703.3,690.7 686.4,709.5 686.4,702.6 665,706.9" fill="#8fab3f" stroke="#fff" stroke-width="4" paint-order="stroke" stroke-linejoin="miter"/>
<ellipse cx="697" cy="713.5" rx="5" ry="5.8" fill="none" stroke="#555" stroke-width="0.8"/>
<path d="M697,708.5 L697,713.5 M693.5,713.5 L700.5,714.5 M694.5,715.8 L699.5,716.5 M695.5,718 L698.5,718.4" stroke="#555" stroke-width="0.8" fill="none"/>
<path d="M694.2,757.6 L697,752 L700,758 Z M690.2,765 L692.6,759.5 L695.2,765.5 Z M696.2,765.4 L699,760.5 L701.7,766 Z" fill="#666"/>
<path d="M699.3,752.9 L708.9,731.7 L727.5,734 L737,756 L727.9,777.2 L708.9,774.6 Z" fill="#fff" stroke="#000" stroke-width="0.9"/>
<ellipse cx="719" cy="754.1" rx="16" ry="19.7" fill="none" stroke="#000" stroke-width="0.8"/>
<ellipse cx="718.4" cy="755" rx="10.5" ry="14.5" fill="#fff" stroke="#000" stroke-width="0.8"/>
<ellipse cx="719" cy="754.5" rx="8" ry="13" fill="none" stroke="#000" stroke-width="0.6"/>
<ellipse cx="763" cy="744" rx="17.5" ry="19" fill="#fff" stroke="#000" stroke-width="0.9"/>
<ellipse cx="764" cy="744.5" rx="13.5" ry="15.5" fill="none" stroke="#444" stroke-width="0.7"/>
<ellipse cx="765" cy="745" rx="11.5" ry="13.5" fill="none" stroke="#888" stroke-width="0.6"/><ellipse cx="765.5" cy="745.3" rx="10" ry="12" fill="none" stroke="#999" stroke-width="1.6" stroke-dasharray="0.7,0.7"/><ellipse cx="766" cy="745.5" rx="8.3" ry="10.2" fill="none" stroke="#777" stroke-width="0.6"/>
<path d="M723.6,741.7 L746.1,736.5 Q752,736 755,742 L758,752 Q758,759 755.7,760.7 L727.9,765.9 Z" fill="#fff" stroke="#000" stroke-width="0.9"/>
<ellipse cx="725" cy="753.8" rx="9.1" ry="12.2" fill="#fff" stroke="#000" stroke-width="1"/>
<ellipse cx="726" cy="754" rx="6.5" ry="9.5" fill="none" stroke="#000" stroke-width="0.6"/>
<ellipse cx="727.5" cy="754" rx="2.6" ry="3.2" fill="#bbb" stroke="#666" stroke-width="0.6"/>
<path d="M733,742 Q739,748 738,762 M737,741 Q743,748 742,761" fill="none" stroke="#000" stroke-width="0.5"/>
<ellipse cx="804.2" cy="750.5" rx="17.3" ry="20.5" fill="#fff" stroke="#000" stroke-width="0.9"/>
<ellipse cx="805" cy="751" rx="13" ry="16.5" fill="none" stroke="#444" stroke-width="0.7"/>
<ellipse cx="805.5" cy="751.2" rx="11.3" ry="14.5" fill="none" stroke="#888" stroke-width="0.6"/><ellipse cx="806" cy="751.5" rx="9.7" ry="12.7" fill="none" stroke="#999" stroke-width="1.6" stroke-dasharray="0.7,0.7"/><ellipse cx="806.5" cy="751.8" rx="8" ry="10.8" fill="none" stroke="#777" stroke-width="0.6"/>
<rect x="812" y="749.5" width="5.2" height="5.2" fill="#fff" stroke="#000" stroke-width="0.6"/>
<path d="M760.9,748.6 L786.9,740.8 Q794,741 797,750 L799,758 Q800,762 799,762.5 L764.3,768.7 Z" fill="#fff" stroke="#000" stroke-width="0.9"/>
<ellipse cx="765.4" cy="757.3" rx="8.5" ry="11.3" fill="#fff" stroke="#000" stroke-width="1"/>
<ellipse cx="766.3" cy="757.5" rx="6" ry="8.8" fill="none" stroke="#000" stroke-width="0.6"/>
<ellipse cx="768" cy="757.5" rx="2.5" ry="3" fill="#bbb" stroke="#666" stroke-width="0.6"/>
<path d="M773,748 Q778,754 777,765 M777,747 Q782,754 781,764" fill="none" stroke="#000" stroke-width="0.5"/>
<text transform="translate(725.5,724) skewY(7.4)"  font-size="10.5" fill="#000" textLength="30.5" lengthAdjust="spacingAndGlyphs" >10M Out</text>
<text transform="translate(705,786.5) skewY(7.4)"  font-size="10.2" fill="#000" textLength="25.5" lengthAdjust="spacingAndGlyphs" >RESET</text>
<text transform="translate(758.5,776.5) skewY(7.4)"  font-size="10.2" fill="#000" textLength="23" lengthAdjust="spacingAndGlyphs" >MGMT</text>
<text transform="translate(807.5,782.5) skewY(7.4)"  font-size="10.2" fill="#000" textLength="17" lengthAdjust="spacingAndGlyphs" >CON</text>
<text transform="translate(818.6,736.6) skewY(7.4)"  font-size="9.8" fill="#000" textLength="27" lengthAdjust="spacingAndGlyphs" >PPSOut</text>
<text transform="translate(858,741.2) skewY(7.4)"  font-size="10.8" fill="#000" textLength="10.3" lengthAdjust="spacingAndGlyphs" >56</text>
<text transform="translate(883,744.4) skewY(7.4)"  font-size="10.8" fill="#000" textLength="9.2" lengthAdjust="spacingAndGlyphs" >57</text>
<ellipse cx="849.2" cy="729.6" rx="5.6" ry="7.4" fill="none" stroke="#000" stroke-width="1"/>
<ellipse cx="849.8" cy="729.6" rx="3.8" ry="5.6" fill="none" stroke="#000" stroke-width="0.5"/>
<ellipse cx="873.6" cy="732.4" rx="5.4" ry="7.4" fill="none" stroke="#000" stroke-width="1"/>
<ellipse cx="874.2" cy="732.4" rx="3.7" ry="5.6" fill="none" stroke="#000" stroke-width="0.5"/>
<path d="M862.6,724.2 L859.2,731.3 L866,732.2 Z M884.1,727 L890.9,728 L887.5,735 Z M787.5,770.5 L784,777.5 L791,778.3 Z M799.5,774.3 L806,775.2 L802.7,780.8 Z" fill="none" stroke="#777" stroke-width="0.7" stroke-linejoin="round"/>
<text transform="translate(684,810.8) skewY(7.4)"  font-size="10.3" fill="#000" textLength="17.7" lengthAdjust="spacingAndGlyphs" >ALM</text>
<text transform="translate(685.7,838.8) skewY(7.4)"  font-size="10.3" fill="#000" textLength="16" lengthAdjust="spacingAndGlyphs" >SYS</text>
<text transform="translate(694.3,866.8) skewY(7.4)"  font-size="10.3" fill="#000" textLength="7.4" lengthAdjust="spacingAndGlyphs" >ID</text>
<ellipse cx="711.4" cy="809.7" rx="5.1" ry="7.4" fill="none" stroke="#000" stroke-width="0.8"/>
<path d="M709.87,805.26 Q708.85,811.1800000000001 712.93,814.88" fill="none" stroke="#000" stroke-width="0.5"/>
<ellipse cx="711.4" cy="837.7" rx="5.1" ry="7.4" fill="none" stroke="#000" stroke-width="0.8"/>
<path d="M709.87,833.26 Q708.85,839.1800000000001 712.93,842.88" fill="none" stroke="#000" stroke-width="0.5"/>
<ellipse cx="711.4" cy="865.7" rx="5.1" ry="7.4" fill="none" stroke="#000" stroke-width="0.8"/>
<path d="M709.87,861.26 Q708.85,867.1800000000001 712.93,870.88" fill="none" stroke="#000" stroke-width="0.5"/>
<ellipse cx="737.7" cy="786.3" rx="4.5" ry="6.5" fill="none" stroke="#000" stroke-width="0.8"/>
<path d="M736.35,782.4 Q735.45,787.5999999999999 739.0500000000001,790.8499999999999" fill="none" stroke="#000" stroke-width="0.5"/>
<path d="M730,802.8 L747,805.8 Q751,806.5 751.2,811 L752,872.5 Q752,877.3 747.5,876.8 L731,872.8 Q726.3,872 726.3,867.5 L725.7,807.5 Q725.7,802.3 730,802.8 Z" fill="#fff" stroke="#000" stroke-width="1"/>
<path d="M733,805 L733,866 Q733,869.5 737,870.5 L751.5,873 M741.1,808.6 L751.4,808 L751.4,866.2 L741.1,864.5 Z M743,809 L743,864.5" fill="none" stroke="#000" stroke-width="0.6"/>
<g stroke="#666" stroke-width="1.1" fill="#666"><path d="M731,882 L748,885 M736,882.5 L740,878.5 L744,878.8 M737,883.5 L741,888 L745,889" fill="none"/><circle cx="731" cy="882" r="1.6"/><circle cx="744.5" cy="878.8" r="1.2"/><circle cx="745" cy="889" r="1.3"/><path d="M747,883 L750,885.5 L746.5,886.5 Z"/></g>
<path d="M759.1,782.2 L823.1,791 L824.7,912.5 L760.7,904.1 Z" fill="#fff" stroke="#000" stroke-width="0.9"/>
<path d="M757.5,784 L757.5,905 L761,908 L826,917 M820,790 L820,910" fill="none" stroke="#000" stroke-width="0.8"/>
<defs><pattern id="hatch" width="3" height="3" patternUnits="userSpaceOnUse" patternTransform="rotate(-45)"><rect width="3" height="3" fill="#d0d0d0"/><rect width="3" height="1.1" fill="#8a8a8a"/></pattern></defs>
<path d="M762.3,788.7 L778.3,790 L779,785.7 L797,788 L796.7,793.3 L812.3,795.3 L813.7,840 Q813.5,843.5 809.7,843.3 L765,836 Q762.5,835 762.3,832 L762.3,820 L761.7,818.7 L779,815.3 L779,804.7 L761.7,809.3 L762.3,808 Z" fill="#fff" stroke="#000" stroke-width="1.3" stroke-linejoin="round"/>
<path d="M785,830 L812.3,813.3 L812.3,833.3 Z" fill="url(#hatch)"/>
<path d="M792.3,798 L792.3,821.3 L785,830 M764.3,831.3 L812.3,836 M762.3,796 L772.3,797 L772.3,788.8 M779,791 L785,791.5 L785,797.5 L796.7,796 M762.3,809.3 L779,805 M762.3,818.5 L779,815.3" fill="none" stroke="#000" stroke-width="0.8"/>
<path d="M799,811.5 l0,-5 l1.8,0 l0,5 l1.8,0 l0,-5 l1.8,0 l0,5 l1.8,0 l0,-5 l1.8,0 l0,5 l1.8,0 l0,-5 l1.8,0 l0,5" fill="none" stroke="#666" stroke-width="0.6"/>
<path d="M803,793.8 L803,801 L812.3,802.5" fill="none" stroke="#000" stroke-width="0.8"/>
<path d="M763.7,851.3 Q764,850 766,850.4 L810.3,856.3 Q813.7,857 813.7,860 L813.7,904.7 L798.3,907.3 L765,902 Q763,900.5 763,899.3 L762.7,877.3 L780.3,874 L779.7,863.3 L762.7,866.7 Z" fill="#fff" stroke="#000" stroke-width="1.3" stroke-linejoin="round"/>
<path d="M793.3,859.3 L793.3,875.3 M763,888.7 L789.7,882 L789.7,876.7 L803.3,878 L803.3,882.2 L763.5,891.5 M804.3,872.5 L804.3,882.7 L813.7,884 M768.5,854 L813,859.5 M763.5,893 L782,897 L782,901.5 M776,890 L776,898 M785,895 L800,892 L810.5,894 L810.5,905" fill="none" stroke="#000" stroke-width="0.8"/>
<path d="M799.5,867.5 l0,-5 l1.8,0 l0,5 l1.8,0 l0,-5 l1.8,0 l0,5 l1.8,0 l0,-5 l1.8,0 l0,5 l1.8,0 l0,-5 l1.8,0 l0,5" fill="none" stroke="#666" stroke-width="0.6"/>
<path d="M823.7,749.3 L829.3,744.3 L895.7,752.3 L896,803 L886.7,805 L824.7,798 Z" fill="#fff" stroke="#000" stroke-width="1.1" stroke-linejoin="round"/>
<path d="M824,749.5 L884.7,756.7 L895.7,752.3 M829.3,744.3 L829.5,749.8" fill="none" stroke="#000" stroke-width="0.8"/>
<path d="M830,746 L884,753 M836,747.5 L840,744.5 M846,748.8 L850,745.8 M856,750 L860,747 M866,751.2 L870,748.2 M876,752.5 L880,749.5" fill="none" stroke="#999" stroke-width="0.7"/>
<path d="M884.7,756.7 L884.7,804.3 M886.5,756.5 L886.7,805 M824.7,797.3 L884,782 M824.7,797.3 L848,798.5 L851,794 L872,794.5 L875,797 L884.5,798 M869,801 L886,803" fill="none" stroke="#000" stroke-width="0.8"/>
<ellipse cx="869.3" cy="772" rx="3.2" ry="5.6" fill="none" stroke="#000" stroke-width="0.6"/>
<path d="M852.5,756 Q853,762 855.5,762.5 Q858,762 858,757" fill="none" stroke="#000" stroke-width="0.6"/>
<path d="M888.7,768.5 L895.3,768 L895.3,775 L888.7,775.3 Z M889.3,788.3 L895.3,788 L895.3,795 L889.3,795.3 Z" fill="none" stroke="#000" stroke-width="0.5"/>
<path d="M824.4,818.2 L850.7,815 L850.9,813.2 L876.6,816.4 L876.6,820.4 L895.5,822.9 L896.2,875.4 L885.9,873.6 L825.1,867.1 Z" fill="#fff" stroke="#000" stroke-width="1.1" stroke-linejoin="round"/>
<path d="M825.1,820 L885.5,827.1 L895.5,822.9 M885.5,827.1 L885.9,873.6 M825.9,865.7 L884.8,851.4 M847,817.5 L860,822 L870,819 M848,819.8 L876,822" fill="none" stroke="#000" stroke-width="0.8"/>
<ellipse cx="869.4" cy="840.7" rx="3.2" ry="5.5" fill="none" stroke="#000" stroke-width="0.6"/>
<path d="M852.5,825.5 Q853,831 855.5,831.5 Q858,831 858,826" fill="none" stroke="#000" stroke-width="0.6"/>
<path d="M889.4,836 L895.9,835.7 L895.9,842.1 L889.4,842.4 Z M889.4,856 L895.9,855.7 L895.9,862.1 L889.4,862.4 Z" fill="none" stroke="#000" stroke-width="0.5"/>
<path d="M819.8,790 L819.8,912" fill="none" stroke="#999" stroke-width="0.6"/>
<path d="M826.2,867.5 L827,914.8 L902.4,928.5" fill="none" stroke="#000" stroke-width="0.8"/>
<path d="M0,-1 C-2.2,-2.5 -4.2,-6.5 -3.6,-9.6 C-3,-12.2 0.8,-12.6 2.6,-10.6 C4.4,-8.4 3.2,-4.2 1.2,-1.4 Z" transform="translate(861.7,884.6) rotate(-25) scale(0.64)" fill="#555"/><path d="M0,-1 C-2.2,-2.5 -4.2,-6.5 -3.6,-9.6 C-3,-12.2 0.8,-12.6 2.6,-10.6 C4.4,-8.4 3.2,-4.2 1.2,-1.4 Z" transform="translate(861.7,884.6) rotate(65) scale(0.64)" fill="#555"/><path d="M0,-1 C-2.2,-2.5 -4.2,-6.5 -3.6,-9.6 C-3,-12.2 0.8,-12.6 2.6,-10.6 C4.4,-8.4 3.2,-4.2 1.2,-1.4 Z" transform="translate(861.7,884.6) rotate(155) scale(0.64)" fill="#555"/><path d="M0,-1 C-2.2,-2.5 -4.2,-6.5 -3.6,-9.6 C-3,-12.2 0.8,-12.6 2.6,-10.6 C4.4,-8.4 3.2,-4.2 1.2,-1.4 Z" transform="translate(861.7,884.6) rotate(245) scale(0.64)" fill="#555"/><circle cx="861.7" cy="884.6" r="0.64" fill="#fff"/>
<text transform="translate(872,891.6) skewY(7.4)"  font-size="10.8" fill="#000" textLength="19.5" lengthAdjust="spacingAndGlyphs" >0 - 5</text>
<path d="M894.2,884.6 L901,888.9 L894.2,893.6 Z M894.6,905.6 L901.4,910 L894.6,914.6 Z" fill="none" stroke="#777" stroke-width="0.8" stroke-linejoin="round"/>
<ellipse cx="862.5" cy="907" rx="5.6" ry="6.8" fill="none" stroke="#555" stroke-width="1.3"/><path d="M859.8,909.5 Q860,905.5 862.5,906.5 Q865,907.5 865.3,903.8" fill="none" stroke="#555" stroke-width="1.2"/>
<text transform="translate(873,913) skewY(7.4)"  font-size="11" fill="#000" textLength="16.5" lengthAdjust="spacingAndGlyphs" >0 - 1</text>
<path d="M899.5,703 L905,703.5" fill="none" stroke="#000" stroke-width="0.8"/>
<text transform="translate(1393.7,1006) rotate(-90)" font-size="23" fill="#000" stroke="#fff" stroke-width="0.6" textLength="89.5" lengthAdjust="spacingAndGlyphs">g051459</text>
</g>
</svg></body></html>
